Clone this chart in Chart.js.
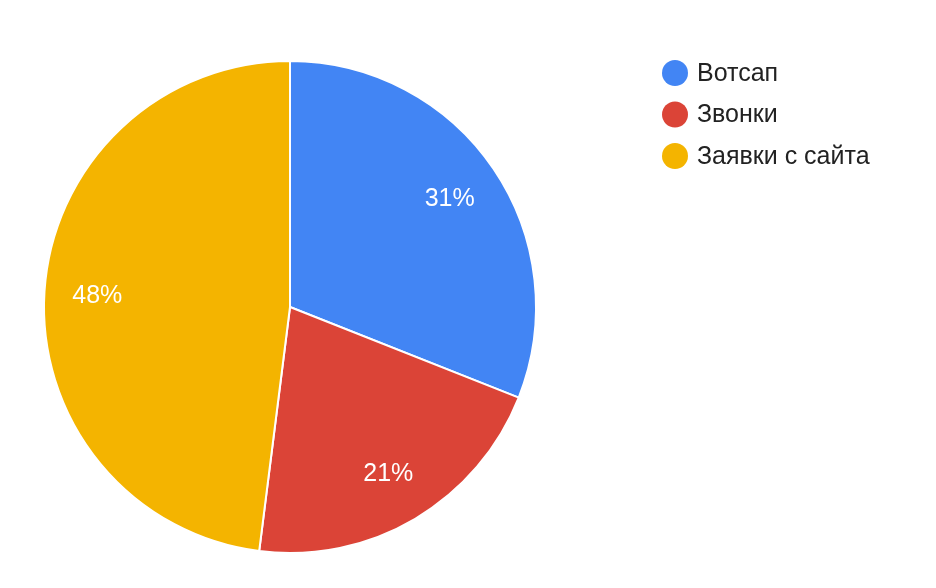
<!DOCTYPE html>
<html>
<head>
<meta charset="utf-8">
<script src="https://cdn.jsdelivr.net/npm/chart.js@4.4.0/dist/chart.umd.min.js"></script>
<style>
  html, body { margin: 0; padding: 0; background: #fff; }
  #wrap { width: 936px; height: 588px; position: relative; }
</style>
</head>
<body>
<div id="wrap"><canvas id="pie"></canvas></div>
<script>
// chart data
const labels = ['Вотсап', 'Звонки', 'Заявки с сайта'];
const values = [31, 21, 48];
const colors = ['#4285F4', '#DB4437', '#F4B400'];

const FONT = '"Liberation Sans", Arial, sans-serif';

// percent labels inside slices
const sliceLabels = {
    id: 'sliceLabels',
    afterDatasetsDraw(chart) {
        const ctx = chart.ctx;
        const meta = chart.getDatasetMeta(0);
        const total = values.reduce((a, b) => a + b, 0);
        ctx.save();
        ctx.fillStyle = '#fff';
        ctx.font = '25px ' + FONT;
        ctx.textAlign = 'center';
        ctx.textBaseline = 'middle';
        meta.data.forEach((arc, i) => {
            const p = arc.getProps(['x', 'y', 'startAngle', 'endAngle', 'outerRadius'], true);
            const mid = (p.startAngle + p.endAngle) / 2;
            const r = p.outerRadius * 0.785;
            const pct = Math.round(values[i] / total * 100) + '%';
            ctx.fillText(pct, p.x + Math.cos(mid) * r, p.y + Math.sin(mid) * r + 1);
        });
        ctx.restore();
    }
};

// legend drawn on the right side
const sideLegend = {
    id: 'sideLegend',
    afterDraw(chart) {
        const ctx = chart.ctx;
        ctx.save();
        ctx.font = '25px ' + FONT;
        ctx.textBaseline = 'middle';
        labels.forEach((lab, i) => {
            const y = 73 + i * 41.5;
            ctx.beginPath();
            ctx.arc(675, y, 13, 0, Math.PI * 2);
            ctx.fillStyle = colors[i];
            ctx.fill();
            ctx.fillStyle = '#222';
            ctx.fillText(lab, 697, y + 1);
        });
        ctx.restore();
    }
};

new Chart(document.getElementById('pie'), {
    type: 'pie',
    data: {
        labels: labels,
        datasets: [{
            data: values,
            backgroundColor: colors,
            borderColor: '#fff',
            borderWidth: 2
        }]
    },
    options: {
        responsive: true,
        maintainAspectRatio: false,
        animation: false,
        layout: { padding: { left: 43, top: 60, right: 399, bottom: 34 } },
        plugins: {
            legend: { display: false },
            tooltip: { enabled: false }
        }
    },
    plugins: [sliceLabels, sideLegend]
});
</script>
</body>
</html>
